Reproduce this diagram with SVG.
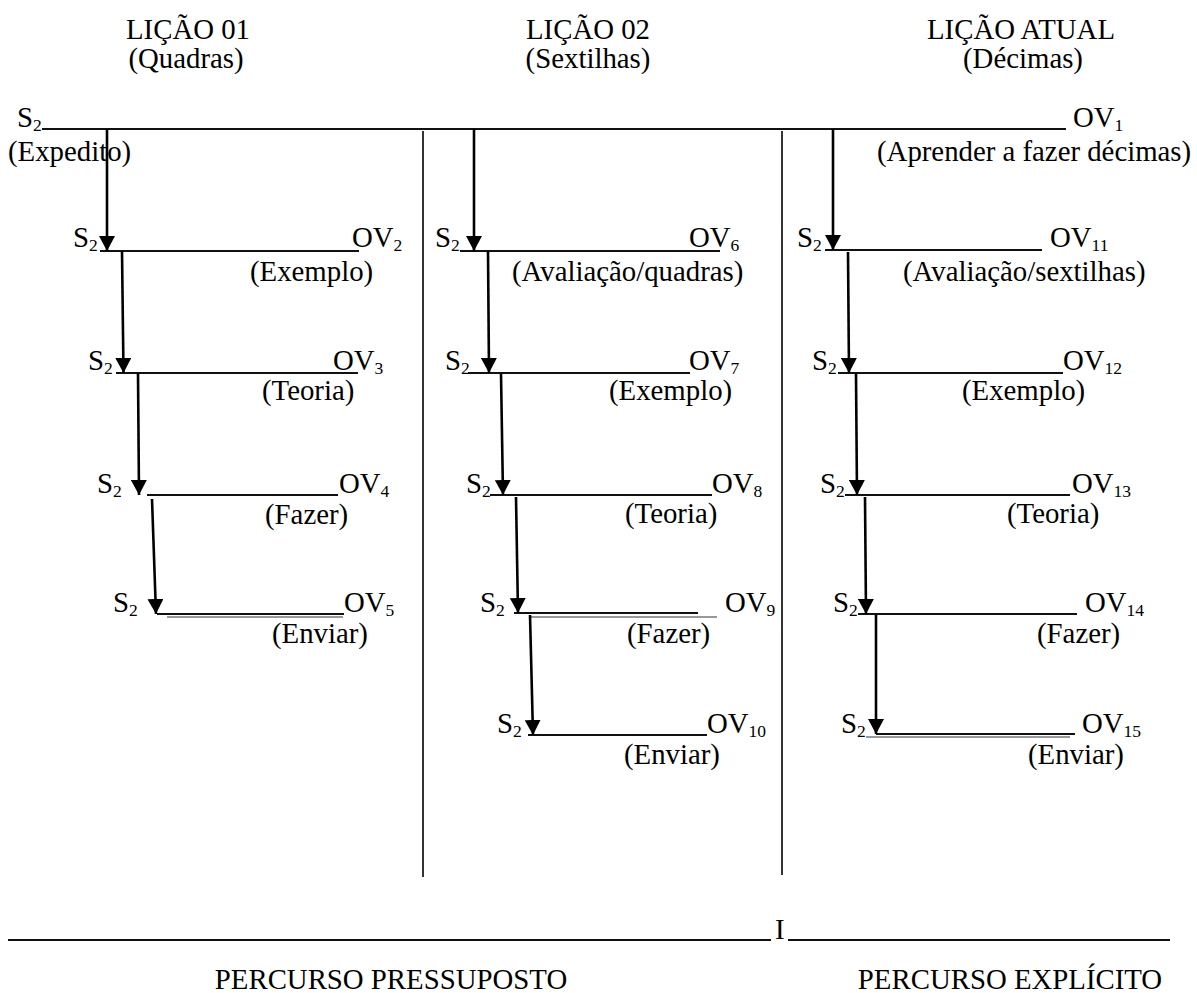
<svg xmlns="http://www.w3.org/2000/svg" width="1197" height="993" viewBox="0 0 1197 993" font-family="'Liberation Serif', 'DejaVu Serif', serif">
<style>
text{font-family:'Liberation Serif','DejaVu Serif',serif;font-size:28.8px;fill:#000}
.sub{font-size:17.5px}
.u{stroke:#111;stroke-width:2;fill:none}
.g{stroke:#777;stroke-width:1.5;fill:none}
.div{stroke:#000;stroke-width:1.6;fill:none}
.arr{stroke:#000;stroke-width:2.6;fill:none;marker-end:url(#ah)}
.m{text-anchor:middle}
</style>
<defs>
<marker id="ah" markerUnits="userSpaceOnUse" viewBox="0 -8 15 16" markerWidth="15" markerHeight="16" refX="15" refY="0" orient="auto">
<path d="M0,-8 L15,0 L0,8 z" fill="#000"/>
</marker>
</defs>
<rect width="1197" height="993" fill="#fff"/>

<g id="headers">
<text class="m" x="188" y="39">LIÇÃO 01</text>
<text class="m" x="186" y="68">(Quadras)</text>
<text class="m" x="588" y="39">LIÇÃO 02</text>
<text class="m" x="588" y="68">(Sextilhas)</text>
<text class="m" x="1021" y="39">LIÇÃO ATUAL</text>
<text class="m" x="1023" y="68">(Décimas)</text>
</g>

<g id="dividers">
<line class="div" x1="423" y1="131" x2="423" y2="877"/>
<line class="div" x1="782" y1="131" x2="782" y2="875"/>
</g>

<g id="node-ov1">
<text x="17" y="127">S<tspan class="sub" dy="4">2</tspan></text>
<line class="u" x1="42" y1="129" x2="1066" y2="129"/>
<text x="1073" y="127">OV<tspan class="sub" dy="4">1</tspan></text>
<text x="8" y="161">(Expedito)</text>
<text x="877" y="161">(Aprender a fazer décimas)</text>
</g>

<!-- Column 1 -->
<g id="node-ov2">
<text x="73" y="247">S<tspan class="sub" dy="4">2</tspan></text>
<line class="u" x1="100" y1="251" x2="359" y2="251"/>
<text x="352" y="247">OV<tspan class="sub" dy="4">2</tspan></text>
<text x="250" y="281">(Exemplo)</text>
</g>
<g id="node-ov3">
<text x="88" y="370">S<tspan class="sub" dy="4">2</tspan></text>
<line class="u" x1="116" y1="373" x2="358" y2="373"/>
<text x="333" y="370">OV<tspan class="sub" dy="4">3</tspan></text>
<text x="262" y="400">(Teoria)</text>
</g>
<g id="node-ov4">
<text x="97" y="493">S<tspan class="sub" dy="4">2</tspan></text>
<line class="u" x1="147" y1="495" x2="338" y2="495"/>
<text x="339" y="493">OV<tspan class="sub" dy="4">4</tspan></text>
<text x="265" y="524">(Fazer)</text>
</g>
<g id="node-ov5">
<text x="113" y="612">S<tspan class="sub" dy="4">2</tspan></text>
<line class="u" x1="157" y1="614" x2="344" y2="614"/>
<line class="g" x1="167" y1="617" x2="343" y2="617"/>
<text x="344" y="612">OV<tspan class="sub" dy="4">5</tspan></text>
<text x="272" y="643">(Enviar)</text>
</g>

<!-- Column 2 -->
<g id="node-ov6">
<text x="435" y="247">S<tspan class="sub" dy="4">2</tspan></text>
<line class="u" x1="460" y1="251" x2="720" y2="251"/>
<text x="689" y="247">OV<tspan class="sub" dy="4">6</tspan></text>
<text x="512" y="281">(Avaliação/quadras)</text>
</g>
<g id="node-ov7">
<text x="445" y="370">S<tspan class="sub" dy="4">2</tspan></text>
<line class="u" x1="468" y1="373" x2="690" y2="373"/>
<text x="689" y="370">OV<tspan class="sub" dy="4">7</tspan></text>
<text x="609" y="400">(Exemplo)</text>
</g>
<g id="node-ov8">
<text x="466" y="493">S<tspan class="sub" dy="4">2</tspan></text>
<line class="u" x1="490" y1="495" x2="712" y2="495"/>
<text x="712" y="493">OV<tspan class="sub" dy="4">8</tspan></text>
<text x="625" y="523">(Teoria)</text>
</g>
<g id="node-ov9">
<text x="480" y="612">S<tspan class="sub" dy="4">2</tspan></text>
<line class="u" x1="514" y1="613" x2="698" y2="613"/>
<line class="g" x1="530" y1="617" x2="717" y2="617"/>
<text x="725" y="612">OV<tspan class="sub" dy="4">9</tspan></text>
<text x="627" y="643">(Fazer)</text>
</g>
<g id="node-ov10">
<text x="497" y="733">S<tspan class="sub" dy="4">2</tspan></text>
<line class="u" x1="528" y1="735" x2="707" y2="735"/>
<text x="707" y="733">OV<tspan class="sub" dy="4">10</tspan></text>
<text x="624" y="764">(Enviar)</text>
</g>

<!-- Column 3 -->
<g id="node-ov11">
<text x="797" y="247">S<tspan class="sub" dy="4">2</tspan></text>
<line class="u" x1="825" y1="250" x2="1042" y2="250"/>
<text x="1050" y="247">OV<tspan class="sub" dy="4">11</tspan></text>
<text x="903" y="281">(Avaliação/sextilhas)</text>
</g>
<g id="node-ov12">
<text x="812" y="370">S<tspan class="sub" dy="4">2</tspan></text>
<line class="u" x1="838" y1="373" x2="1063" y2="373"/>
<text x="1063" y="370">OV<tspan class="sub" dy="4">12</tspan></text>
<text x="962" y="400">(Exemplo)</text>
</g>
<g id="node-ov13">
<text x="820" y="493">S<tspan class="sub" dy="4">2</tspan></text>
<line class="u" x1="845" y1="495" x2="1070" y2="495"/>
<text x="1072" y="493">OV<tspan class="sub" dy="4">13</tspan></text>
<text x="1007" y="523">(Teoria)</text>
</g>
<g id="node-ov14">
<text x="833" y="612">S<tspan class="sub" dy="4">2</tspan></text>
<line class="u" x1="858" y1="614" x2="1077" y2="614"/>
<text x="1085" y="612">OV<tspan class="sub" dy="4">14</tspan></text>
<text x="1037" y="643">(Fazer)</text>
</g>
<g id="node-ov15">
<text x="841" y="733">S<tspan class="sub" dy="4">2</tspan></text>
<line class="u" x1="876" y1="734" x2="1075" y2="734"/>
<line class="g" x1="866" y1="737" x2="1070" y2="737"/>
<text x="1082" y="733">OV<tspan class="sub" dy="4">15</tspan></text>
<text x="1028" y="764">(Enviar)</text>
</g>

<g id="connectors">
<line class="arr" x1="107" y1="129" x2="107" y2="251"/>
<line class="arr" x1="122" y1="251" x2="123.5" y2="373"/>
<line class="arr" x1="138" y1="373" x2="139" y2="495"/>
<line class="arr" x1="152" y1="499" x2="156" y2="614"/>

<line class="arr" x1="474" y1="129" x2="474" y2="251"/>
<line class="arr" x1="488" y1="251" x2="489" y2="373"/>
<line class="arr" x1="501" y1="374" x2="503" y2="495"/>
<line class="arr" x1="516" y1="497" x2="518" y2="613"/>
<line class="arr" x1="530" y1="615" x2="533" y2="735"/>

<line class="arr" x1="833" y1="129" x2="833" y2="250"/>
<line class="arr" x1="848" y1="252" x2="849" y2="373"/>
<line class="arr" x1="856" y1="374" x2="857" y2="495"/>
<line class="arr" x1="865" y1="497" x2="866" y2="614"/>
<line class="arr" x1="876" y1="615" x2="876" y2="734"/>
</g>

<g id="footer">
<line class="u" x1="8" y1="940" x2="771" y2="940"/>
<text x="775" y="939">I</text>
<line class="u" x1="788" y1="940" x2="1170" y2="940"/>
<text class="m" x="391" y="989">PERCURSO PRESSUPOSTO</text>
<text class="m" x="1010" y="989">PERCURSO EXPLÍCITO</text>
</g>
</svg>
